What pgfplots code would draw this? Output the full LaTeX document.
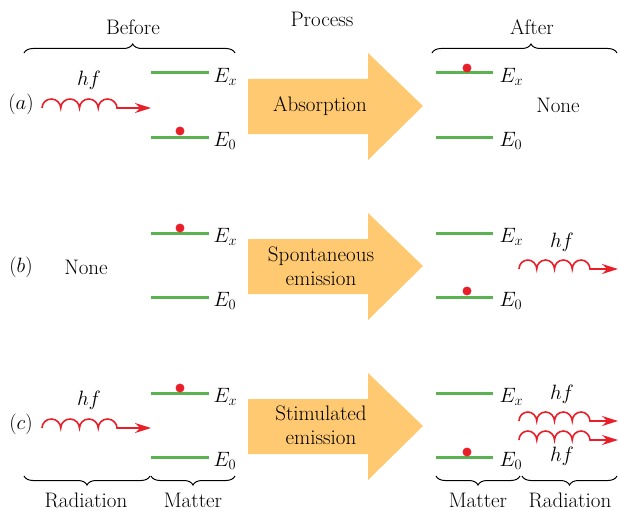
\documentclass[border=0pt]{standalone}
\usepackage{pgfplots}
\pgfplotsset{compat=1.18}
\usetikzlibrary{decorations.pathmorphing,decorations.pathreplacing,arrows.meta}
\definecolor{lvl}{RGB}{90,178,80}
\definecolor{phot}{RGB}{232,30,40}
\definecolor{arr}{RGB}{254,201,112}
\begin{document}
\begin{tikzpicture}[font=\fontsize{21}{24}\selectfont,
  mth/.style={font=\fontsize{19.5}{23}\selectfont}]
\begin{axis}[
  width=619pt, height=511pt, scale only axis,
  xmin=0, xmax=619, ymin=0, ymax=511, y dir=reverse,
  axis lines=none, clip=false,
  level/.style={lvl, line width=3pt},
  dot/.style={only marks, mark=*, mark size=4.2pt, mark options={fill=phot, draw=phot}},
  wave/.style 2 args={phot, line width=1.6pt, decorate,
     decoration={bumps, segment length=#2, amplitude=9pt, post length=#1},
     -{Stealth[length=16pt,width=10pt]}},
  bigarrow/.style={arr, fill=arr, draw=none},
  brc/.style={black, line width=1pt, decorate, decoration={brace, amplitude=9pt, #1}},
]
% frame for the bounding box (invisible)
\addplot[draw=none, forget plot] coordinates {(0,0)(619,511)};
% big arrows
\addplot[bigarrow] coordinates {(248,79)(368,79)(368,53)(423,106)(368,160)(368,134)(248,134)} -- cycle;
\addplot[bigarrow] coordinates {(248,239)(368,239)(368,213)(423,266)(368,320)(368,294)(248,294)} -- cycle;
\addplot[bigarrow] coordinates {(248,399)(368,399)(368,373)(423,426)(368,480)(368,454)(248,454)} -- cycle;
% energy levels
\addplot[level] coordinates {(151,73)(209,73)};
\addplot[level] coordinates {(151,137)(209,137)};
\addplot[level] coordinates {(436,73)(493,73)};
\addplot[level] coordinates {(436,137)(493,137)};
\addplot[level] coordinates {(151,233)(209,233)};
\addplot[level] coordinates {(151,297)(209,297)};
\addplot[level] coordinates {(436,233)(493,233)};
\addplot[level] coordinates {(436,297)(493,297)};
\addplot[level] coordinates {(151,393)(209,393)};
\addplot[level] coordinates {(151,457)(209,457)};
\addplot[level] coordinates {(436,393)(493,393)};
\addplot[level] coordinates {(436,457)(493,457)};
% electrons
\addplot[dot] coordinates {(180,131)(467,68)(180,228)(467,291)(180,388)(467,452)};
% photons
\addplot[wave={31pt}{37.5pt}] coordinates {(42,108)(151,108)};
\addplot[wave={31pt}{37.5pt}] coordinates {(42,428)(151,428)};
\addplot[wave={27pt}{35.5pt}] coordinates {(519,269)(618,269)};
\addplot[wave={27pt}{35.5pt}] coordinates {(519,421)(618,421)};
\addplot[wave={27pt}{35.5pt}] coordinates {(519,440)(618,440)};
% braces
\addplot[brc={aspect=0.515}] coordinates {(24,53)(235,53)};
\addplot[brc={aspect=0.535}] coordinates {(432,53)(617,53)};
\addplot[brc={mirror}] coordinates {(24,476)(150,476)};
\addplot[brc={mirror}] coordinates {(151,476)(235,476)};
\addplot[brc={mirror}] coordinates {(436,476)(520,476)};
\addplot[brc={mirror}] coordinates {(522,476)(617,476)};
% texts
\node at (axis cs:133,27) {Before};
\node at (axis cs:322,19) {Process};
\node at (axis cs:532,27) {After};
\node at (axis cs:86,500) {Radiation};
\node at (axis cs:193,500) {Matter};
\node at (axis cs:478,500) {Matter};
\node at (axis cs:570,500) {Radiation};
\node[mth] at (axis cs:21,104) {$(a)$};
\node[mth] at (axis cs:21,267) {$(b)$};
\node[mth] at (axis cs:21,424) {$(c)$};
\node[mth] at (axis cs:89,80) {$hf$};
\node[mth] at (axis cs:89,400) {$hf$};
\node[mth] at (axis cs:562,242) {$hf$};
\node[mth] at (axis cs:562,394) {$hf$};
\node[mth] at (axis cs:562,456) {$hf$};
\node at (axis cs:86,267) {None};
\node at (axis cs:558,105) {None};
\node at (axis cs:320,106) {Absorption};
\node[align=center] at (axis cs:321,266) {Spontaneous\\emission};
\node[align=center] at (axis cs:321,425) {Stimulated\\emission};
\node[mth, anchor=west] at (axis cs:210,77) {$E_x$};
\node[mth, anchor=west] at (axis cs:210,141) {$E_0$};
\node[mth, anchor=west] at (axis cs:210,237) {$E_x$};
\node[mth, anchor=west] at (axis cs:210,301) {$E_0$};
\node[mth, anchor=west] at (axis cs:210,397) {$E_x$};
\node[mth, anchor=west] at (axis cs:210,461) {$E_0$};
\node[mth, anchor=west] at (axis cs:496,77) {$E_x$};
\node[mth, anchor=west] at (axis cs:496,141) {$E_0$};
\node[mth, anchor=west] at (axis cs:496,237) {$E_x$};
\node[mth, anchor=west] at (axis cs:496,301) {$E_0$};
\node[mth, anchor=west] at (axis cs:496,397) {$E_x$};
\node[mth, anchor=west] at (axis cs:496,461) {$E_0$};
\end{axis}
\end{tikzpicture}
\end{document}
